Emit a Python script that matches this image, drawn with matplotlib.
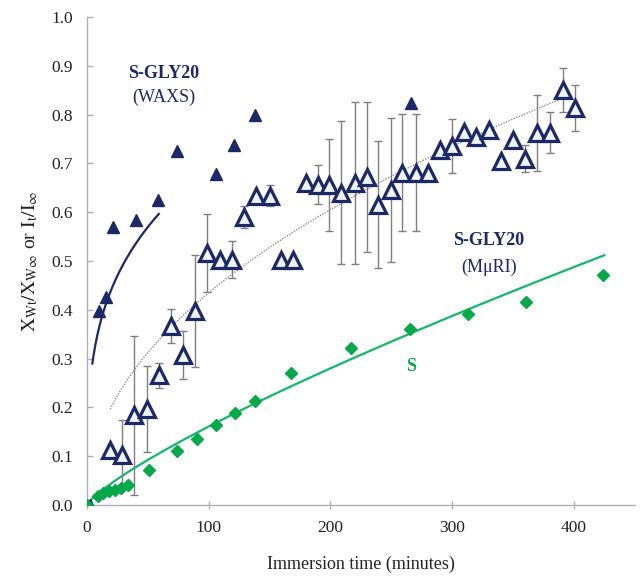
import matplotlib
matplotlib.use("Agg")
import matplotlib.pyplot as plt
import numpy as np

# ---------------- data ----------------
# S-GLY20 (WAXS) filled triangles
waxs_t = [2.5, 10, 16, 21.5, 40, 58, 74, 106, 121, 138, 266]
waxs_y = [0.0, 0.398, 0.426, 0.570, 0.584, 0.626, 0.726, 0.678, 0.738, 0.800, 0.823]

# S-GLY20 (MuRI) open triangles with error bars
muri_t = [19, 29, 39, 49, 59, 69, 79, 89, 99, 109, 119, 129, 139, 150, 159, 169,
          180, 190, 199, 209, 220, 230, 239, 250, 259, 270, 280, 290, 300, 310,
          320, 330, 340, 350, 360, 370, 380, 391, 401]
muri_y = [0.113, 0.102, 0.184, 0.196, 0.266, 0.367, 0.307, 0.398, 0.516, 0.503,
          0.503, 0.590, 0.634, 0.634, 0.502, 0.502, 0.660, 0.656, 0.656, 0.640,
          0.659, 0.672, 0.615, 0.645, 0.681, 0.681, 0.681, 0.728, 0.735, 0.764,
          0.755, 0.768, 0.705, 0.748, 0.710, 0.763, 0.763, 0.850, 0.813]
muri_err = [0.0, 0.072, 0.163, 0.088, 0.026, 0.035, 0.049, 0.115, 0.080, 0.0,
            0.037, 0.023, 0.0, 0.022, 0.0, 0.0, 0.0, 0.040, 0.094, 0.147,
            0.166, 0.154, 0.130, 0.148, 0.120, 0.120, 0.0, 0.0, 0.055, 0.0,
            0.0, 0.0, 0.0, 0.0, 0.027, 0.078, 0.042, 0.045, 0.047]

# S (green diamonds)
s_t = [0, 9, 13, 18, 23, 28, 34, 51, 74, 90, 106, 122, 138, 168, 217, 265, 313, 361, 424]
s_y = [0.0, 0.018, 0.024, 0.028, 0.031, 0.035, 0.040, 0.072, 0.111, 0.135, 0.164,
       0.188, 0.214, 0.271, 0.321, 0.360, 0.391, 0.415, 0.471]

# power-law fit parameters (y = k * t^n) and ranges of the trend lines
waxs_fit = dict(k=0.192, n=0.278, t0=4.4, t1=59)
muri_fit = dict(k=0.0482, n=0.4776, t0=19, t1=391)
s_fit = dict(k=0.00404, n=0.80, t0=3, t1=425)

xticks = [0, 100, 200, 300, 400]
yticks = [0.0, 0.1, 0.2, 0.3, 0.4, 0.5, 0.6, 0.7, 0.8, 0.9, 1.0]

# ---------------- style ----------------
plt.rcParams['font.family'] = ['Liberation Serif', 'DejaVu Serif']
plt.rcParams['mathtext.fontset'] = 'stix'

navy = '#1b2a66'
green = '#06a84a'
line_green = '#13b86a'
gray = '#7f7f7f'

fig = plt.figure(figsize=(6.41, 5.78), dpi=100)
ax = fig.add_axes([0.1357, 0.1263, 0.8545, 0.8443])

def fit_curve(p):
    t = np.linspace(p['t0'], p['t1'], 200)
    return t, p['k'] * t ** p['n']

# trend lines
t, y = fit_curve(muri_fit)
ax.plot(t, y, linestyle=(0, (1, 1)), color='#8a8a8a', lw=1.0, zorder=2)
t, y = fit_curve(waxs_fit)
ax.plot(t, y, color=navy, lw=1.6, zorder=2)
t, y = fit_curve(s_fit)
ax.plot(t, y, color=line_green, lw=1.6, zorder=2)

# error bars for MuRI
ax.errorbar(muri_t, muri_y, yerr=muri_err, fmt='none', ecolor=gray,
            elinewidth=1.0, capsize=3, capthick=1.0, zorder=3)
ax.plot(muri_t, muri_y, linestyle='none', marker='^', ms=11,
        mfc='#eef3f3', mec=navy, mew=2.3, zorder=4)

# WAXS filled triangles
ax.plot(waxs_t, waxs_y, linestyle='none', marker='^', ms=9,
        mfc=navy, mec=navy, zorder=5)

# S diamonds
ax.plot(s_t, s_y, linestyle='none', marker='D', ms=6.5,
        mfc=green, mec=green, zorder=6)

# annotations
ax.text(63, 0.885, 'S-GLY20', color=navy, fontsize=13, fontweight='bold',
        ha='center', va='center')
ax.text(63, 0.836, '(WAXS)', color=navy, fontsize=13, ha='center', va='center')
ax.text(330, 0.543, 'S-GLY20', color=navy, fontsize=13, fontweight='bold',
        ha='center', va='center')
ax.text(330, 0.488, '(M\u03bcRI)', color=navy, fontsize=13, ha='center', va='center')
ax.text(266, 0.283, 'S', color=green, fontsize=13, fontweight='bold',
        ha='center', va='center')

# axes
ax.set_xlim(0, 450)
ax.set_ylim(0, 1.0)
ax.set_xticks(xticks)
ax.set_yticks(yticks)
ax.set_yticklabels([f'{v:.1f}' for v in yticks])
for s in ['top', 'right']:
    ax.spines[s].set_visible(False)
for s in ['left', 'bottom']:
    ax.spines[s].set_color('#b0b0b0')
    ax.spines[s].set_linewidth(1.0)
ax.tick_params(axis='both', labelsize=12.5, colors='#b0b0b0', labelcolor='#222222',
               length=4, width=1.0)
ax.tick_params(axis='y', direction='in', pad=10)
ax.tick_params(axis='x', direction='inout', length=6, pad=8)

ax.set_xlabel('Immersion time (minutes)', fontsize=13, color='#222222', labelpad=14)
ax.set_ylabel(r'$\mathrm{X_{Wt}/X_{W\infty}}$ or $\mathrm{I_t/I_\infty}$',
              fontsize=14, color='#222222', labelpad=8)

fig.savefig('out.png', dpi=100)
